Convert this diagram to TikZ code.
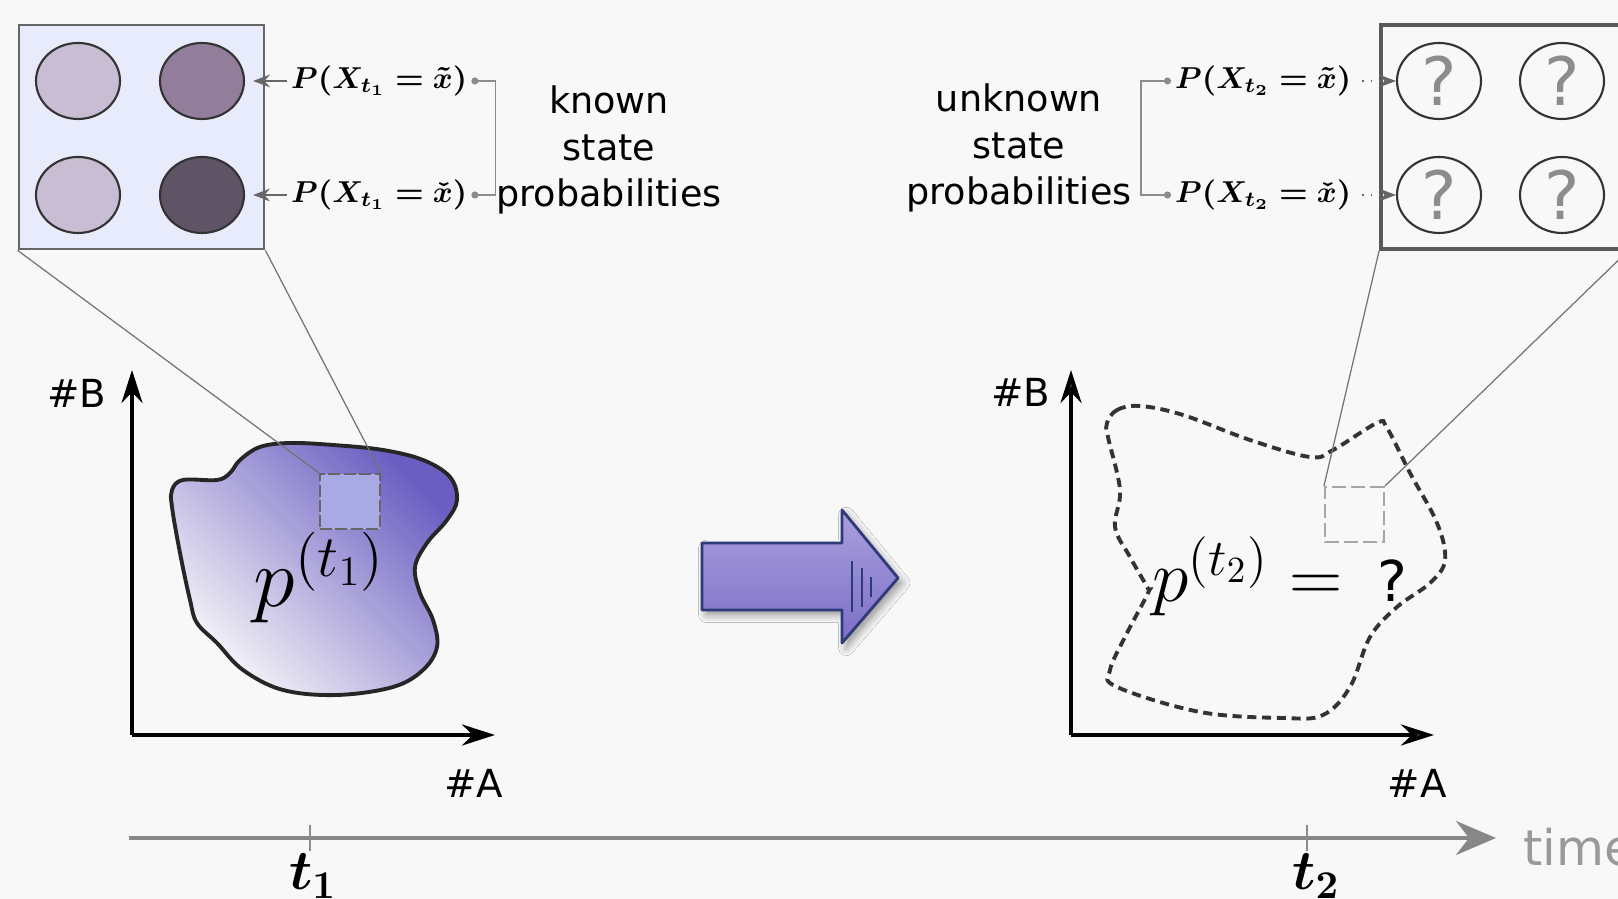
\RequirePackage{fix-cm}
\documentclass[tikz,border=0pt]{standalone}
\usepackage{amsmath}
\usepackage{bm}
\usepackage[no-math]{fontspec}
\setmainfont{DejaVu Sans}
\usepackage{tikz}
\usetikzlibrary{arrows.meta,positioning,shapes.geometric,shadows.blur}
\definecolor{bggray}{HTML}{F8F8F8}
\definecolor{zoomfill}{HTML}{E8EBFC}
\definecolor{stlight}{HTML}{C8BDD2}
\definecolor{stmid}{HTML}{927E9A}
\definecolor{stdark}{HTML}{5F5366}
\definecolor{blobdark}{HTML}{6A5EC2}
\definecolor{blobmid}{HTML}{B0A8DC}
\definecolor{bloblight}{HTML}{F7F6F8}
\definecolor{sqfill}{HTML}{A9A9E4}
\definecolor{arrtop}{HTML}{A99FDD}
\definecolor{arrbot}{HTML}{7C6FC7}
\definecolor{arrline}{HTML}{2E3A7A}

\begin{document}
\begin{tikzpicture}[x=1mm, y=1mm, >=Stealth,
 stnode/.style={draw=black!80, ellipse, line width=0.6pt, minimum width=8.4mm, minimum height=7.6mm, inner sep=0pt},
 qnode/.style={stnode, font=\fontsize{19}{19}\selectfont, text=black!45},
 zoombox/.style={rectangle, minimum width=24.5mm, minimum height=22.4mm, inner sep=0pt},
 prob/.style={font=\fontsize{8.6}{11}\selectfont, inner sep=1pt},
 txt/.style={font=\fontsize{10.4}{13.2}\selectfont, align=center},
 axlab/.style={font=\fontsize{11}{13}\selectfont},
 brk/.style={draw=black!45, line width=0.4pt, {Circle[length=2pt]}-{Circle[length=2pt]}},
 zoomline/.style={draw=black!55, line width=0.35pt},
 axisline/.style={line width=1.1pt, -{Stealth[length=3.3mm, width=2.1mm]}},
 tlab/.style={font=\fontsize{16}{16}\selectfont, anchor=base}]
\useasboundingbox (0,0) rectangle (161.8,89.9);
\clip (0,0) rectangle (161.8,89.9);
\fill[bggray] (0,0) rectangle (161.8,89.9);

\node[zoombox, draw=black!60, line width=0.8pt, fill=zoomfill] (zoomA) at (14.15,76.2) {};
\node[stnode, fill=stlight] (c11) at (7.8,81.8) {};
\node[stnode, fill=stmid] (c12) at (20.2,81.8) {};
\node[stnode, fill=stlight] (c21) at (7.8,70.4) {};
\node[stnode, fill=stdark] (c22) at (20.2,70.4) {};
\node[prob, anchor=west] (pa1) at (28.7,81.8) {$\bm{P(X_{t_1}=\tilde{x})}$};
\node[prob, anchor=west] (pa2) at (28.7,70.4) {$\bm{P(X_{t_1}=\check{x})}$};
\draw[->, black!60, line width=0.4pt] (pa1.west) -- ([xshift=0.8mm]c12.east);
\draw[->, black!60, line width=0.4pt] (pa2.west) -- ([xshift=0.8mm]c22.east);
\draw[brk] (pa1.east) -- ++(2.4,0) |- (pa2.east);
\node[txt] (known) at (60.9,74.9) {known\\state\\probabilities};

\node[zoombox, draw=black!65, line width=1.1pt] (zoomB) at (150.35,76.2) {};
\node[qnode] (q11) at (143.9,81.8) {?};
\node[qnode] (q12) at (156.2,81.8) {?};
\node[qnode] (q21) at (143.9,70.4) {?};
\node[qnode] (q22) at (156.2,70.4) {?};
\node[prob, anchor=west] (pb1) at (117.1,81.8) {$\bm{P(X_{t_2}=\tilde{x})}$};
\node[prob, anchor=west] (pb2) at (117.1,70.4) {$\bm{P(X_{t_2}=\check{x})}$};
\draw[->, black!60, line width=0.4pt, dotted] ([xshift=0.7mm]pb1.east) -- (q11.west);
\draw[->, black!60, line width=0.4pt, dotted] ([xshift=0.7mm]pb2.east) -- (q21.west);
\draw[brk] (pb1.west) -- ++(-3.0,0) |- (pb2.west);
\node[txt] (unknown) at (101.9,75.1) {unknown\\state\\probabilities};

\coordinate (oA) at (13.2,16.4);
\coordinate (yA) at (13.2,52.9);
\coordinate (xA) at (49.5,16.4);
\draw[axisline] (oA) -- (yA);
\draw[axisline] (oA) -- (xA);
\node[axlab] (bA) at (7.7,50.6) {\#B};
\node[axlab] (aA) at (47.4,11.6) {\#A};
\path[draw=black!85, line width=1.1pt, top color=blobdark, middle color=blobmid, bottom color=bloblight, shading angle=-45]
  plot[smooth cycle, tension=0.6] coordinates {(17.2,40.9) (18.3,41.9) (21.7,41.9) (23.0,42.6) (24.0,43.9) (26.0,45.2) (29.0,45.6) (33.3,45.4) (38.3,44.9) (42.3,43.9) (45.0,42.2) (45.7,39.9) (44.7,37.9) (42.7,35.6) (41.5,33.2) (42.0,30.6) (43.3,27.9) (43.7,25.2) (42.3,22.9) (39.3,21.2) (33.7,20.4) (28.3,20.9) (24.3,22.9) (21.7,25.6) (19.7,27.6) (19.0,29.9) (18.0,34.6) (17.2,39.2)};
\node[draw=black!60, line width=0.6pt, dash pattern=on 3.4pt off 1pt, fill=sqfill, minimum width=6mm, minimum height=5.5mm, inner sep=0pt] (sqA) at (35.0,39.75) {};
\draw[zoomline] (zoomA.south west) -- (sqA.north west);
\draw[zoomline] (zoomA.south east) -- (sqA.north east);
\node[anchor=base west, font=\fontsize{24}{28}\selectfont, inner sep=0pt] (pA) at (25.3,29.2) {$p^{(t_1)}$};

\path[draw=arrline, line width=0.8pt, line join=round, top color=arrtop, bottom color=arrbot,
  blur shadow={shadow xshift=1.2pt, shadow yshift=-1.4pt, shadow blur steps=6}]
  (70.2,35.6) -- (84.2,35.6) -- (84.2,38.9) -- (89.8,32.1) -- (84.2,25.6) -- (84.2,28.9) -- (70.2,28.9) -- cycle;
\foreach \x/\a/\b in {85.2/33.8/28.7, 86.2/33.1/29.2, 87.1/32.2/30.2}
  \draw[arrline, line width=0.35pt] (\x,\a) -- (\x,\b);

\coordinate (oB) at (107.1,16.4);
\coordinate (yB) at (107.1,52.9);
\coordinate (xB) at (143.4,16.4);
\draw[axisline] (oB) -- (yB);
\draw[axisline] (oB) -- (xB);
\node[axlab] (bB) at (102.1,50.7) {\#B};
\node[axlab] (aB) at (141.7,11.6) {\#A};
\draw[black!80, line width=1.1pt, dash pattern=on 2.6pt off 1.6pt]
  plot[smooth cycle, tension=0.6] coordinates {(110.7,47.6) (111.7,48.9) (114.0,49.3) (118.3,48.4) (125.0,45.9) (131.0,44.2) (133.3,44.9) (137.7,47.6) (138.7,47.1) (141.0,42.6) (143.7,37.6) (144.5,33.9) (143.0,31.6) (139.7,29.2) (137.0,26.2) (135.0,21.2) (132.3,18.4) (128.3,18.1) (120.0,18.7) (111.7,21.2) (111.0,22.9) (112.7,26.6) (114.8,30.6) (114.7,31.2) (113.0,34.2) (111.5,37.2) (112.0,40.9) (110.8,46.2)};
\node[draw=black!35, line width=0.6pt, dash pattern=on 4pt off 1.4pt, minimum width=5.9mm, minimum height=5.5mm, inner sep=0pt] (sqB) at (135.45,38.45) {};
\draw[zoomline] (zoomB.south west) -- (sqB.north west);
\draw[zoomline] (zoomB.south east) -- (sqB.north east);
\node[anchor=base west, font=\fontsize{21}{25}\selectfont, inner sep=0pt] (pB) at (115.2,29.7) {$p^{(t_2)}=\ $\,{\fontsize{16}{18}\selectfont ?}};

\coordinate (tstart) at (12.9,6.1);
\coordinate (tend) at (149.6,6.1);
\draw[black!47, line width=1.2pt, -{Stealth[length=4mm, width=3.4mm]}] (tstart) -- (tend);
\draw[black!45, line width=0.5pt] (31.0,7.4) -- (31.0,4.8);
\draw[black!45, line width=0.5pt] (130.7,7.4) -- (130.7,4.8);
\node[tlab] (t1) at (31.3,0.9) {$\bm{t_1}$};
\node[tlab] (t2) at (131.6,0.9) {$\bm{t_2}$};
\node[anchor=base west, font=\fontsize{14}{14}\selectfont, text=black!40] (time) at (151.1,3.3) {time};
\end{tikzpicture}
\end{document}
